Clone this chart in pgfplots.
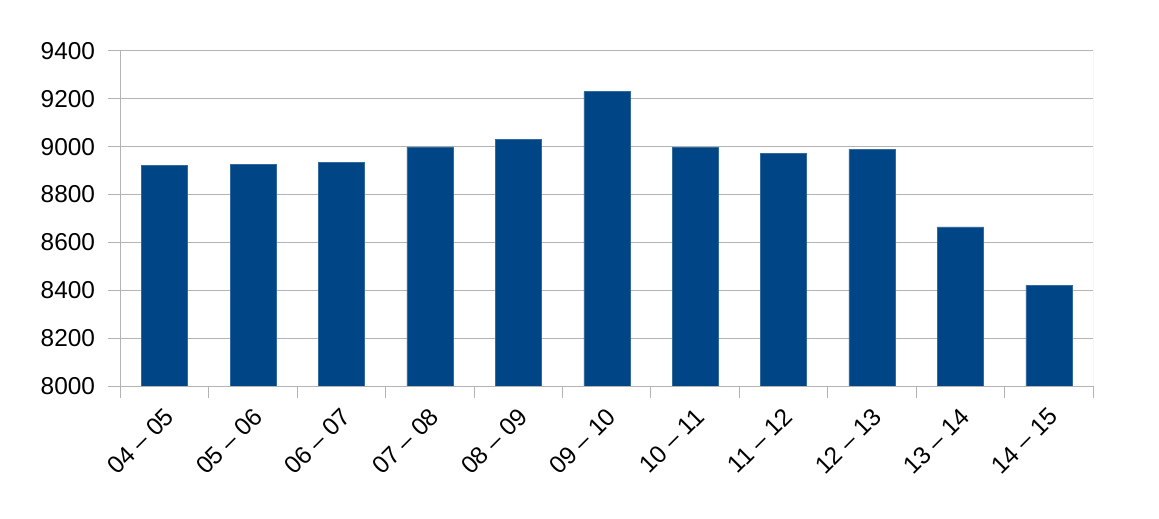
\documentclass[border=0pt]{standalone}
\usepackage{pgfplots}
\pgfplotsset{compat=1.18}
\usepackage{fontspec}
\setmainfont{Liberation Sans}

\definecolor{barblue}{HTML}{004586}
\definecolor{gridgray}{HTML}{B3B3B3}

\pgfplotstableread{
idx value
0  8922
1  8926
2  8934
3  8999
4  9030
5  9230
6  8998
7  8972
8  8988
9  8665
10 8421
}\datatable

\begin{document}
\begin{tikzpicture}
\useasboundingbox (0,0) rectangle (1159bp,519bp);
\begin{axis}[
    at={(120.5bp,133bp)}, anchor=south west,
    scale only axis,
    width=972.5bp, height=335bp,
    font=\fontsize{24.5}{29}\selectfont,
    /pgf/number format/assume math mode=true,
    ymin=8000, ymax=9400,
    ytick={8000,8200,...,9400},
    yticklabel style={/pgf/number format/1000 sep={}, xshift=-9bp},
    xmin=-0.5, xmax=10.5,
    xtick={0,...,10},
    xticklabels={04 – 05, 05 – 06, 06 – 07, 07 – 08, 08 – 09, 09 – 10,
                 10 – 11, 11 – 12, 12 – 13, 13 – 14, 14 – 15},
    xticklabel style={rotate=45, anchor=north east, inner sep=1pt, xshift=-5bp, yshift=-3bp},
    major x tick style={draw=none},
    extra x ticks={-0.5,0.5,...,10.5},
    extra x tick labels={},
    extra x tick style={major tick length=12bp, tick align=outside,
        tick pos=bottom, major x tick style={draw=gridgray, line width=1pt}},
    axis x line*=bottom, axis y line*=left,
    axis line style={draw=gridgray, line width=1pt, -},
    ymajorgrids,
    grid style={draw=gridgray, line width=1pt},
    ytick style={draw=gridgray, line width=1pt},
    major tick length=13bp,
    tick align=outside,
    ybar, bar width=46bp,
]
\addplot[fill=barblue, draw=barblue!80!white, line width=0.5pt] table[x=idx, y=value] {\datatable};
\draw[gridgray, line width=1pt] (axis cs:10.5,8000) -- (axis cs:10.5,9400);
\end{axis}
\end{tikzpicture}
\end{document}
